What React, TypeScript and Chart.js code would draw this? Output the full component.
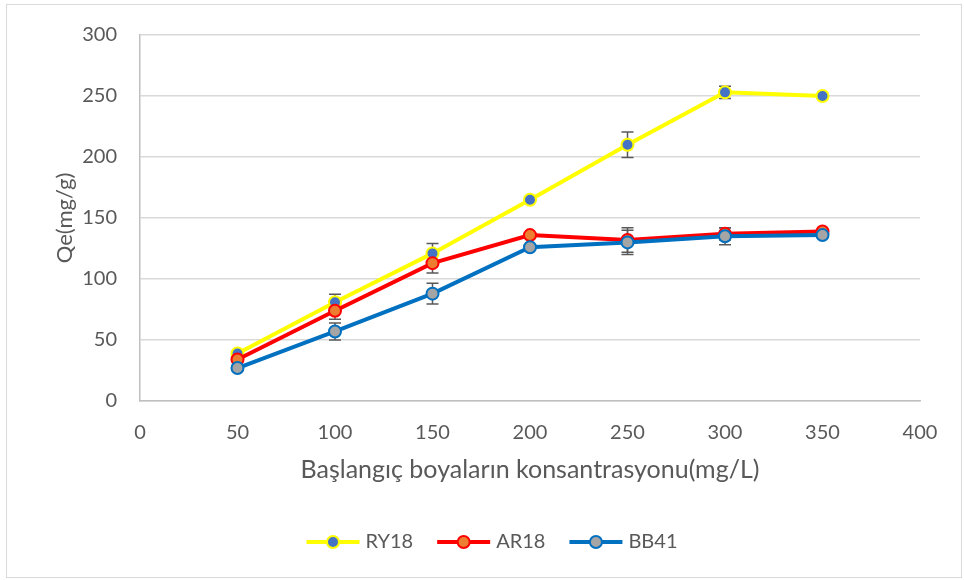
import React, { useEffect, useRef } from 'react';
import { Chart, registerables } from 'chart.js';

Chart.register(...registerables);

// ---- data ----
const concentrations = [50, 100, 150, 200, 250, 300, 350];
const seriesNames = ['RY18', 'AR18', 'BB41'];
const ry18 = [39, 81, 121, 165, 210, 253, 250];
const ar18 = [34, 74, 113, 136, 132, 137, 139];
const bb41 = [27, 57, 88, 126, 130, 135, 136];
const ry18Err = [0, 6.5, 8, 0, 10.5, 5, 0];
const ar18Err = [0, 7, 8, 0, 10, 5, 0];
const bb41Err = [0, 7, 8.5, 0, 10, 7, 0];
const xTitle = 'Başlangıç boyaların konsantrasyonu(mg/L)';
const yTitle = 'Qe(mg/g)';

const FONT = 'Lato, "Open Sans", sans-serif';
const TEXT = '#595959';

const errorBarPlugin = {
  id: 'errorBars',
  beforeDatasetsDraw(chart: any) {
    const { ctx, scales } = chart;
    const x = scales.x, y = scales.y;
    ctx.save();
    ctx.strokeStyle = '#595959';
    ctx.lineWidth = 1.5;
    chart.data.datasets.forEach((ds: any) => {
      const errs = ds.errors;
      if (!errs) return;
      ds.data.forEach((p: any, i: number) => {
        const e = errs[i];
        if (!e) return;
        const px = x.getPixelForValue(p.x);
        const top = y.getPixelForValue(p.y + e);
        const bot = y.getPixelForValue(p.y - e);
        ctx.beginPath();
        ctx.moveTo(px, top); ctx.lineTo(px, bot);
        ctx.moveTo(px - 6, top); ctx.lineTo(px + 6, top);
        ctx.moveTo(px - 6, bot); ctx.lineTo(px + 6, bot);
        ctx.stroke();
      });
    });
    ctx.restore();
  },
};

const frameLegendPlugin = {
  id: 'frameLegend',
  beforeDraw(chart: any) {
    const ctx = chart.ctx;
    ctx.save();
    ctx.fillStyle = '#ffffff';
    ctx.fillRect(0, 0, chart.width, chart.height);
    ctx.strokeStyle = '#d9d9d9';
    ctx.lineWidth = 1;
    ctx.strokeRect(6.5, 4.5, 955, 573);
    ctx.restore();
  },
  afterDraw(chart: any) {
    const ctx = chart.ctx;
    ctx.save();
    ctx.font = `20px ${FONT}`;
    const lineLen = 53, gapText = 6, gapItem = 24;
    const items = chart.data.datasets.map((ds: any) => ({ ds, w: ctx.measureText(ds.label).width }));
    const total = items.reduce((s: number, it: any) => s + lineLen + gapText + it.w, 0) + gapItem * (items.length - 1);
    let x0 = 492 - total / 2;
    const yc = 542;
    items.forEach((it: any) => {
      const ds = it.ds;
      ctx.strokeStyle = ds.borderColor;
      ctx.lineWidth = 4;
      ctx.beginPath();
      ctx.moveTo(x0, yc);
      ctx.lineTo(x0 + lineLen, yc);
      ctx.stroke();
      ctx.beginPath();
      ctx.arc(x0 + lineLen / 2, yc, 6, 0, Math.PI * 2);
      ctx.fillStyle = ds.pointBackgroundColor;
      ctx.fill();
      ctx.lineWidth = 2;
      ctx.strokeStyle = ds.pointBorderColor;
      ctx.stroke();
      ctx.fillStyle = TEXT;
      ctx.textBaseline = 'middle';
      ctx.textAlign = 'left';
      ctx.fillText(ds.label, x0 + lineLen + gapText, yc);
      x0 += lineLen + gapText + it.w + gapItem;
    });
    ctx.restore();
  },
};

export default function App() {
  const ref = useRef<HTMLCanvasElement | null>(null);

  useEffect(() => {
    if (!ref.current) return;
    const mk = (vals: number[]) => concentrations.map((c, i) => ({ x: c, y: vals[i] }));
    const chart = new Chart(ref.current, {
      type: 'line',
      data: {
        datasets: [
          {
            label: seriesNames[0], data: mk(ry18), errors: ry18Err, order: 2,
            borderColor: '#FFFF00', borderWidth: 4,
            pointBackgroundColor: '#4472C4', pointBorderColor: '#FFFF00',
            pointBorderWidth: 2, pointRadius: 6, tension: 0,
          } as any,
          {
            label: seriesNames[1], data: mk(ar18), errors: ar18Err, order: 1,
            borderColor: '#FF0000', borderWidth: 4,
            pointBackgroundColor: '#ED7D31', pointBorderColor: '#FF0000',
            pointBorderWidth: 2, pointRadius: 6, tension: 0,
          } as any,
          {
            label: seriesNames[2], data: mk(bb41), errors: bb41Err, order: 0,
            borderColor: '#0070C0', borderWidth: 4,
            pointBackgroundColor: '#A5A5A5', pointBorderColor: '#0070C0',
            pointBorderWidth: 2, pointRadius: 6, tension: 0,
          } as any,
        ],
      },
      options: {
        responsive: false,
        animation: false,
        devicePixelRatio: 1,
        layout: { padding: { top: 33, right: 44, bottom: 94, left: 0 } },
        plugins: { legend: { display: false }, tooltip: { enabled: false } },
        scales: {
          x: {
            type: 'linear', min: 0, max: 400,
            ticks: { stepSize: 50, color: TEXT, font: { family: FONT, size: 20 }, padding: 20 },
            grid: { display: false, drawTicks: false },
            border: { display: true, color: '#bfbfbf', width: 1.5 },
            title: { display: true, text: xTitle, color: TEXT, font: { family: FONT, size: 25 }, padding: { top: 4, bottom: 1 } },
            afterFit(s: any) { s.height = 85; },
          },
          y: {
            min: 0, max: 300,
            ticks: { stepSize: 50, color: TEXT, font: { family: FONT, size: 20 }, padding: 23 },
            grid: { color: '#d9d9d9', lineWidth: 1.5, drawTicks: false },
            border: { display: true, color: '#bfbfbf', width: 1.5 },
            title: { display: true, text: yTitle, color: TEXT, font: { family: FONT, size: 22 }, padding: { top: 52, bottom: 0 } },
            afterFit(s: any) { s.width = 140; },
          },
        },
      } as any,
      plugins: [errorBarPlugin, frameLegendPlugin],
    });
    return () => chart.destroy();
  }, []);

  return (
    <div style={{ position: 'absolute', left: 0, top: 0, width: 964, height: 580 }}>
      <canvas ref={ref} width={964} height={580} style={{ display: 'block', width: 964, height: 580 }} />
    </div>
  );
}
